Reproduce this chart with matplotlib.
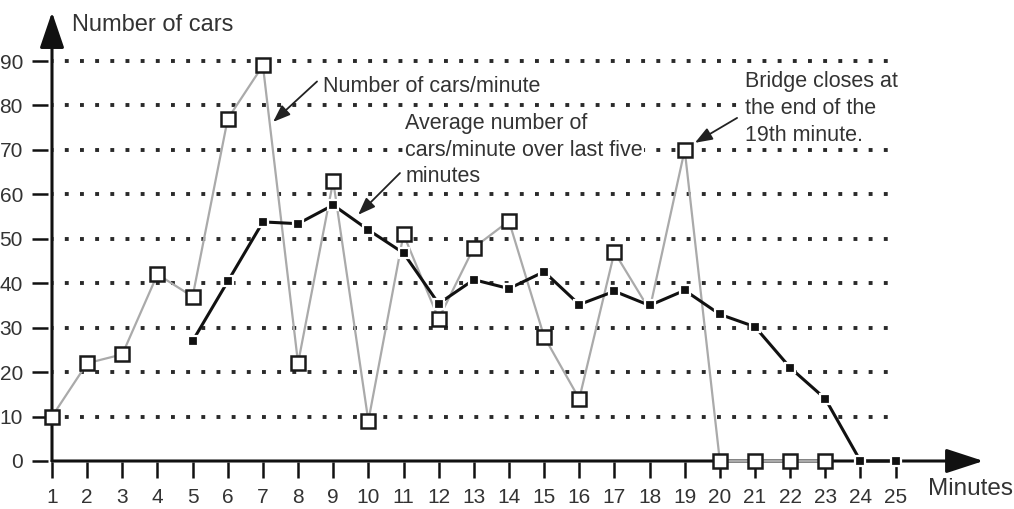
import matplotlib
matplotlib.use("Agg")
import matplotlib.pyplot as plt

plt.rcParams['font.family'] = ['Liberation Sans', 'DejaVu Sans']

# ---- data ----
minutes = list(range(1, 26))
raw_minutes = list(range(1, 24))
cars_per_minute = [10, 22, 24, 42, 37, 77, 89, 22, 63, 9, 51, 32, 48, 54, 28, 14, 47, 34, 70, 0, 0, 0, 0]
avg_minutes = list(range(5, 26))
avg_last_five = [27, 40.4, 53.8, 53.4, 57.6, 52, 46.8, 35.4, 40.8, 38.8, 42.6, 35.2, 38.2, 35, 38.4, 33, 30.2, 21, 14, 0, 0]
y_ticks = [0, 10, 20, 30, 40, 50, 60, 70, 80, 90]
x_ticks = minutes
raw_hidden_marker = 18

text_col = '#333333'

fig = plt.figure(figsize=(10.14, 5.09), dpi=100)
ax = fig.add_axes([40/1014, 39/509, 950/1014, 465/509])
ax.set_xlim(1 - 12/35.15, 1 + (990-52)/35.15)
ax.set_ylim(-(470-461)/4.444, (461-5)/4.444)
for s in ax.spines.values():
    s.set_visible(False)

# grid lines (heavy dots)
for yv in y_ticks[1:]:
    ax.hlines(yv, 1, 24.8, colors='#2a2a2a', linewidth=2.8,
              linestyles=(0.6, (1, 2.9)), zorder=1)

# axes with arrows
ax.annotate('', xy=(27.5, 0), xytext=(1, 0),
            arrowprops=dict(arrowstyle='-|>,head_length=2.3,head_width=0.75',
                            color='#111111', lw=2.2, mutation_scale=10,
                            shrinkA=0, shrinkB=0), zorder=2)
ax.annotate('', xy=(1, 101), xytext=(1, 0),
            arrowprops=dict(arrowstyle='-|>,head_length=2.2,head_width=0.75',
                            color='#111111', lw=2.2, mutation_scale=10,
                            shrinkA=0, shrinkB=0), zorder=2)

# ticks
ax.set_xticks(x_ticks)
ax.set_xticklabels([str(m) for m in x_ticks])
ax.set_yticks(y_ticks)
ax.set_yticklabels([str(v) for v in y_ticks])
ax.tick_params(axis='x', direction='inout', length=11, width=1.8, color='#111111',
               labelsize=15, labelcolor=text_col, pad=7.5)
ax.tick_params(axis='y', direction='inout', length=11.5, width=1.8, color='#111111',
               labelsize=15, labelcolor=text_col, pad=6.5)

# raw series
marks = [i for i, m in enumerate(raw_minutes) if m != raw_hidden_marker]
ax.plot(raw_minutes, cars_per_minute, color='#aaaaaa', linewidth=1.6,
        marker='s', markersize=10, markerfacecolor='white',
        markeredgecolor='#1a1a1a', markeredgewidth=1.8, markevery=marks, zorder=4)

# average series
ax.plot(avg_minutes, avg_last_five, color='#111111', linewidth=2.2,
        marker='s', markersize=7, markerfacecolor='#111111',
        markeredgecolor='white', markeredgewidth=1.6, zorder=5)

# annotations
arrow_kw = dict(arrowstyle='-|>,head_length=0.75,head_width=0.28', color='#222222',
                lw=1.3, shrinkA=0, shrinkB=0, mutation_scale=14)
box = dict(facecolor='white', edgecolor='none', pad=1.0)

ax.annotate('', xy=(7.29, 76.3), xytext=(8.54, 85.4), arrowprops=arrow_kw, zorder=6)
ax.text(8.7, 84.3, 'Number of cars/minute', fontsize=15.5, color=text_col,
        va='center', ha='left', bbox=box, zorder=6)

ax.annotate('', xy=(9.71, 55.4), xytext=(10.9, 64.8), arrowprops=arrow_kw, zorder=6)
ax.text(11.05, 69.9, 'Average number of\ncars/minute over last five\nminutes', fontsize=15.5,
        color=text_col, va='center', ha='left', linespacing=1.35, bbox=box, zorder=6)

ax.annotate('', xy=(19.29, 71.6), xytext=(20.49, 77.2), arrowprops=arrow_kw, zorder=6)
ax.text(20.72, 79.3, 'Bridge closes at\nthe end of the\n19th minute.', fontsize=15.5,
        color=text_col, va='center', ha='left', linespacing=1.35, bbox=box, zorder=6)

ax.text(1.57, 98.2, 'Number of cars', fontsize=17, color=text_col, va='center', ha='left')
ax.text(25.92, -6.3, 'Minutes', fontsize=17.5, color=text_col, va='center', ha='left',
        clip_on=False)

fig.savefig('out.png', dpi=100)
